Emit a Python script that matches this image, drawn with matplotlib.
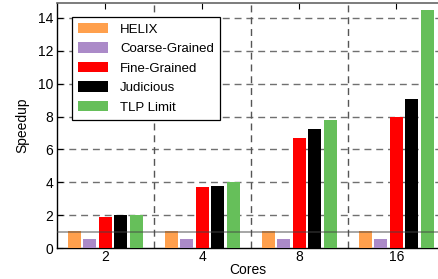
import matplotlib
matplotlib.use('Agg')
import matplotlib.pyplot as plt
import numpy as np

# dane
cores = ['2', '4', '8', '16']
helix = [1.03, 1.03, 1.03, 1.03]
coarse = [0.52, 0.52, 0.52, 0.52]
fine = [1.9, 3.72, 6.7, 7.95]
judicious = [2.0, 3.78, 7.25, 9.05]
tlp = [2.03, 4.02, 7.8, 14.45]

series = [helix, coarse, fine, judicious, tlp]
labels = ['HELIX', 'Coarse-Grained', 'Fine-Grained', 'Judicious', 'TLP Limit']
colors = ['#FFA04D', '#AB8AC8', '#FF0000', '#000000', '#66BF5A']

plt.rcParams['font.family'] = ['Liberation Sans', 'DejaVu Sans']
plt.rcParams['font.size'] = 9

fig = plt.figure(figsize=(4.38, 2.79), dpi=100)
ax = fig.add_axes([0.130, 0.111, 0.870, 0.878])

x = np.arange(len(cores))
step = 0.16
width = 0.135
for i, (vals, lab, col) in enumerate(zip(series, labels, colors)):
    ax.bar(x + (i - 2) * step, vals, width, color=col, label=lab, zorder=3)

# linia odniesienia dla przyspieszenia = 1
ax.axhline(1, color='#444444', lw=1.1, alpha=0.6, zorder=4)

# siatka
for yv in range(2, 15, 2):
    ax.axhline(yv, color='#707070', lw=1.0, ls=(0, (5, 3.5)), zorder=1)
for xv in [0.5, 1.5, 2.5]:
    ax.axvline(xv, color='#555555', lw=1.0, ls=(0, (5, 3.5)), zorder=1)

ax.set_xlim(-0.5, 3.43)
ax.set_ylim(0, 14.9)
ax.set_xticks(x)
ax.set_xticklabels(cores)
ax.set_yticks(range(0, 15, 2))
ax.tick_params(direction='in', top=True, length=4, width=0.8, labelsize=10, pad=2.5)
ax.tick_params(axis='x', pad=1.5)
ax.spines['right'].set_visible(False)
ax.spines['top'].set_color('#666666')
ax.spines['top'].set_linewidth(1.2)
ax.spines['left'].set_linewidth(1.0)
ax.spines['bottom'].set_linewidth(1.0)

ax.set_xlabel('Cores', fontsize=10, labelpad=-1)
ax.set_ylabel('Speedup', fontsize=10, labelpad=6)

leg = ax.legend(loc='upper left', bbox_to_anchor=(0.039, 0.943), borderaxespad=0,
                fancybox=False, framealpha=1, edgecolor='black',
                handlelength=2.3, handleheight=0.8, handletextpad=0.9,
                labelspacing=0.52, borderpad=0.45, fontsize=9.5)
leg.get_frame().set_linewidth(0.9)
leg.set_zorder(5)

fig.savefig('out.png', dpi=100)
